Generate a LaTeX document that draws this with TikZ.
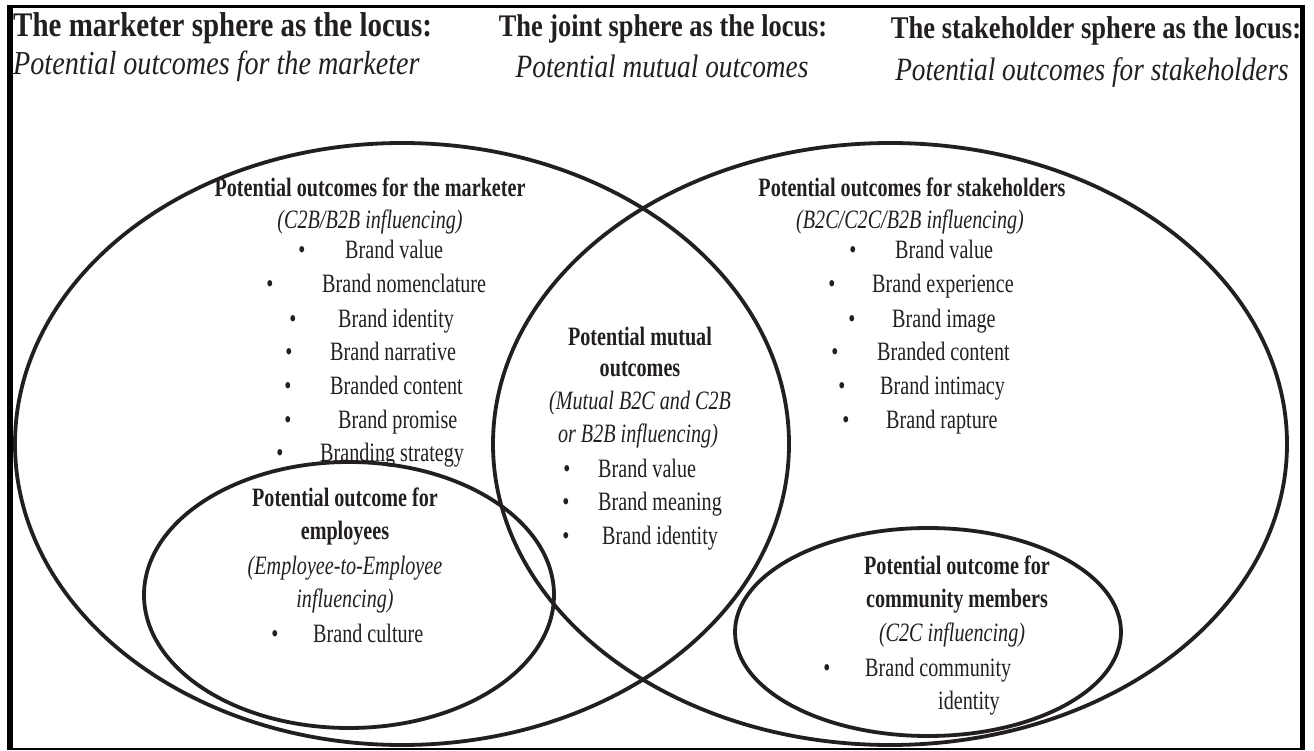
\documentclass[tikz,border=0pt]{standalone}
\usepackage{fontspec}
\setmainfont[FakeStretch=0.84]{Liberation Serif}
\newfontfamily\bodyfont[FakeStretch=0.76]{Liberation Serif}
\definecolor{ink}{HTML}{231F20}
\tikzset{
  txt/.style={inner sep=0pt, text=ink, font=\bodyfont\fontsize{26.5}{30}\selectfont},
  bodytxt/.style={txt, anchor=base},
  headtxt/.style={inner sep=0pt, text=ink, anchor=base},
  ring/.style={draw=ink, line width=3.8pt},
  frame/.style={draw=black},
}
\newcommand\headsz[1]{\fontsize{#1}{#1}\selectfont}
% a bulleted entry: name, bullet x, text start x, baseline y, text
\newcommand\bitem[5]{%
  \node[bodytxt] (#1-dot) at (#2,#4) {\textbullet};
  \node[txt, anchor=base west] (#1) at (#3,#4) {#5};}
\begin{document}
\begin{tikzpicture}[x=1pt,y=-1pt]
\useasboundingbox (0,0) rectangle (1314,751);
\fill[white] (0,0) rectangle (1314,751);

% outer frame
\draw[frame, line width=6pt] (10,5.5) -- (10,750);
\draw[frame, line width=3pt] (7,7) -- (1305,7);
\draw[frame, line width=5pt] (1302.5,5.5) -- (1302.5,750);
\draw[frame, line width=2pt] (7,749) -- (1305,749);

% headings
\node[headtxt, anchor=base west, font=\headsz{34.5}\bfseries] (h1) at (13,37) {The marketer sphere as the locus:};
\node[headtxt, anchor=base west, font=\headsz{33.5}\itshape] (h1i) at (13,75) {Potential outcomes for the marketer};
\node[headtxt, font=\headsz{31.4}\bfseries] (h2) at (663,37) {The joint sphere as the locus:};
\node[headtxt, font=\headsz{32.5}\itshape] (h2i) at (662,78) {Potential mutual outcomes};
\node[headtxt, font=\headsz{31.6}\bfseries] (h3) at (1096,39) {The stakeholder sphere as the locus:};
\node[headtxt, font=\headsz{32.5}\itshape] (h3i) at (1092,81) {Potential outcomes for stakeholders};

% spheres
\draw[ring] (402,444) ellipse [x radius=387pt, y radius=301pt];
\draw[ring] (890,444) ellipse [x radius=397pt, y radius=301pt];
\draw[ring] (349,595) ellipse [x radius=205pt, y radius=133pt];
\draw[ring] (928,632) ellipse [x radius=193pt, y radius=104pt];

% marketer sphere
\node[bodytxt] (m1) at (370,197) {\bfseries Potential outcomes for the marketer};
\node[bodytxt] (m2) at (370,229) {\itshape (C2B/B2B influencing)};
\bitem{m3}{302}{345}{259}{Brand value}
\bitem{m4}{270}{322}{293}{Brand nomenclature}
\bitem{m5}{293}{338}{327}{Brand identity}
\bitem{m6}{289}{330}{360}{Brand narrative}
\bitem{m7}{288}{330}{394}{Branded content}
\bitem{m8}{288}{338}{428}{Brand promise}
\bitem{m9}{280}{320}{461}{Branding strategy}

% employees
\node[bodytxt] (e1) at (345,506) {\bfseries Potential outcome for};
\node[bodytxt] (e2) at (345,539) {\bfseries employees};
\node[bodytxt] (e3) at (345,574) {\itshape (Employee-to-Employee};
\node[bodytxt] (e4) at (345,607) {\itshape influencing)};
\bitem{e5}{275}{313}{642}{Brand culture}

% joint sphere
\node[bodytxt] (j1) at (640,345) {\bfseries Potential mutual};
\node[bodytxt] (j2) at (640,376) {\bfseries outcomes};
\node[bodytxt] (j3) at (640,409) {\itshape (Mutual B2C and C2B};
\node[bodytxt] (j4) at (638,442) {\itshape or B2B influencing)};
\bitem{j5}{567}{598}{477}{Brand value}
\bitem{j6}{566}{598}{510}{Brand meaning}
\bitem{j7}{566}{602}{544}{Brand identity}

% stakeholder sphere
\node[bodytxt] (s1) at (912,197) {\bfseries Potential outcomes for stakeholders};
\node[bodytxt] (s2) at (910,229) {\itshape (B2C/C2C/B2B influencing)};
\bitem{s3}{853}{895}{259}{Brand value}
\bitem{s4}{832}{872}{293}{Brand experience}
\bitem{s5}{852}{892}{327}{Brand image}
\bitem{s6}{835}{877}{360}{Branded content}
\bitem{s7}{842}{880}{394}{Brand intimacy}
\bitem{s8}{846}{886}{428}{Brand rapture}

% community members
\node[bodytxt] (c1) at (957,574) {\bfseries Potential outcome for};
\node[bodytxt] (c2) at (957,607) {\bfseries community members};
\node[bodytxt] (c3) at (952,641) {\itshape (C2C influencing)};
\bitem{c4}{827}{865}{676}{Brand community}
\node[bodytxt] (c5) at (969,709) {identity};
\end{tikzpicture}
\end{document}
